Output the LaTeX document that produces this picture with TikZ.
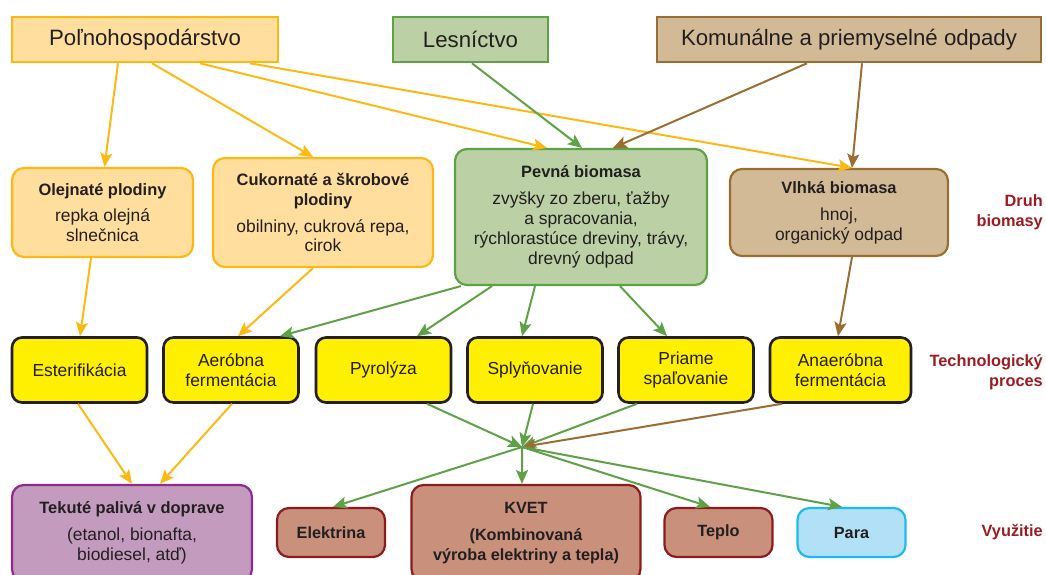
\documentclass[tikz,border=0pt]{standalone}
\usepackage{fontspec}
\setmainfont{Liberation Sans}
\usetikzlibrary{arrows.meta}
\definecolor{ink}{HTML}{231F20}
\definecolor{agrfill}{HTML}{FFDE9E}
\definecolor{agrline}{HTML}{FDB913}
\definecolor{forfill}{HTML}{BBD1A5}
\definecolor{forline}{HTML}{5FA147}
\definecolor{wastefill}{HTML}{D2BA97}
\definecolor{wasteline}{HTML}{9A6E33}
\definecolor{procfill}{HTML}{FFEF00}
\definecolor{fuelfill}{HTML}{C29BBE}
\definecolor{fuelline}{HTML}{8E2B8C}
\definecolor{usefill}{HTML}{C9907C}
\definecolor{useline}{HTML}{8C1B1E}
\definecolor{steamfill}{HTML}{B2E1F7}
\definecolor{steamline}{HTML}{1CBBEE}
\definecolor{lblred}{HTML}{9A1C22}
\newcommand{\ttl}[1]{{\fontsize{16.5}{20}\selectfont\bfseries #1}}

\begin{document}
\begin{tikzpicture}[x=1bp,y=-1bp,
	every node/.style={font=\fontsize{17.5}{20}\selectfont, text=ink, align=center, inner sep=0pt},
	head/.style={draw, line width=2.6bp, font=\fontsize{22.3}{26}\selectfont, minimum height=45bp},
	kind/.style={draw, line width=2.2bp, rounded corners=12bp},
	proc/.style={draw=ink, fill=procfill, line width=2.6bp, rounded corners=10bp, minimum width=135bp, minimum height=65bp},
	usebox/.style={draw=useline, fill=usefill, line width=2.2bp, rounded corners=12bp, font=\fontsize{16.3}{20}\selectfont\bfseries},
	side/.style={text=lblred, font=\fontsize{16.4}{20.5}\selectfont\bfseries, align=right, anchor=east},
	arr/.style={-{Stealth[length=14bp,width=12bp,inset=3bp]}, line width=2bp}]
	\useasboundingbox (0,0) rectangle (1046,575);

	\node[head, fill=agrfill, draw=agrline, minimum width=266bp] (agri) at (145,39.5) {Poľnohospodárstvo};
	\node[head, fill=forfill, draw=forline, minimum width=155bp] (forest) at (470.5,39.5) {Lesníctvo};
	\node[head, fill=wastefill, draw=wasteline, minimum width=384bp] (waste) at (849,39.5) {Komunálne a priemyselné odpady};

	\node[kind, fill=agrfill, draw=agrline, minimum width=181bp, minimum height=89bp] (oil) at (102.5,212.5) {\ttl{Olejnaté plodiny}\\[7pt] repka olejná\\ slnečnica};
	\node[kind, fill=agrfill, draw=agrline, minimum width=220bp, minimum height=109bp] (sugar) at (323,212.5) {\ttl{Cukornaté a škrobové}\\ \ttl{plodiny}\\[7pt] obilniny, cukrová repa,\\ cirok};
	\node[kind, fill=forfill, draw=forline, minimum width=252bp, minimum height=136bp] (solid) at (581,217) {\ttl{Pevná biomasa}\\[7pt] zvyšky zo zberu, ťažby\\ a spracovania,\\ rýchlorastúce dreviny, trávy,\\ drevný odpad};
	\node[kind, fill=wastefill, draw=wasteline, minimum width=218bp, minimum height=87bp] (wet) at (839,212.5) {\ttl{Vlhká biomasa}\\[7pt] hnoj,\\ organický odpad};

	\node[proc] (ester) at (79.5,370) {Esterifikácia};
	\node[proc] (aero) at (231,370) {Aeróbna\\ fermentácia};
	\node[proc] (pyro) at (383.5,370) {Pyrolýza};
	\node[proc] (gas) at (535,370) {Splyňovanie};
	\node[proc] (burn) at (686,370) {Priame\\ spaľovanie};
	\node[proc, minimum width=141bp] (anaero) at (840.5,370) {Anaeróbna\\ fermentácia};

	\node[kind, fill=fuelfill, draw=fuelline, minimum width=240bp, minimum height=96bp] (fuel) at (132,533) {\ttl{Tekuté palivá v doprave}\\[7pt] (etanol, bionafta,\\ biodiesel, atď)};
	\node[usebox, minimum width=108bp, minimum height=49bp] (elec) at (331,532.5) {Elektrina};
	\node[usebox, minimum width=229bp, minimum height=96bp] (kvet) at (526,533) {KVET\\[7pt] (Kombinovaná\\ výroba elektriny a tepla)};
	\node[usebox, minimum width=108bp, minimum height=49bp] (heat) at (718.5,532.5) {Teplo};
	\node[usebox, draw=steamline, fill=steamfill, minimum width=108bp, minimum height=49bp] (steam) at (851.5,532.5) {Para};

	\node[side] (lkind) at (1043,212) {Druh\\ biomasy};
	\node[side] (lproc) at (1043,372) {Technologický\\ proces};
	\node[side] (luse) at (1043,532) {Využitie};

	\coordinate (hub) at (522,447);

	\draw[arr, agrline] ([xshift=-27bp]agri.south) -- ([xshift=2bp]oil.north);
	\draw[arr, agrline] ([xshift=7bp]agri.south) -- ([xshift=-10bp]sugar.north);
	\draw[arr, agrline] ([xshift=55bp]agri.south) -- ([xshift=-34bp]solid.north);
	\draw[arr, agrline] ([xshift=105bp]agri.south) -- ([xshift=13bp]wet.north);
	\draw[arr, forline] ([xshift=1.5bp]forest.south) -- ([xshift=1bp]solid.north);
	\draw[arr, wasteline] ([xshift=-42bp]waste.south) -- ([xshift=32bp]solid.north);
	\draw[arr, wasteline] ([xshift=13bp]waste.south) -- ([xshift=13bp]wet.north);

	\draw[arr, agrline] ([xshift=-11.5bp]oil.south) -- ([xshift=0.5bp]ester.north);
	\draw[arr, agrline] ([xshift=-10bp]sugar.south) -- ([xshift=7bp]aero.north);
	\draw[arr, forline] ([xshift=7bp]solid.south west) -- ([xshift=49bp]aero.north);
	\draw[arr, forline] ([xshift=-89bp]solid.south) -- ([xshift=33.5bp]pyro.north);
	\draw[arr, forline] ([xshift=-46bp]solid.south) -- ([xshift=-13bp]gas.north);
	\draw[arr, forline] ([xshift=39bp]solid.south) -- ([xshift=-19bp]burn.north);
	\draw[arr, wasteline] ([xshift=13bp]wet.south) -- ([xshift=-2.5bp]anaero.north);

	\draw[arr, agrline] ([xshift=-1.5bp]ester.south) -- (fuel.north);
	\draw[arr, agrline] ([xshift=1bp]aero.south) -- ([xshift=28bp]fuel.north);
	\draw[arr, forline] ([xshift=43.5bp]pyro.south) -- (hub);
	\draw[arr, forline] ([xshift=-2bp]gas.south) -- (hub);
	\draw[arr, forline] ([xshift=-49bp]burn.south) -- (hub);
	\draw[arr, wasteline] ([xshift=-58.5bp]anaero.south) -- (hub);

	\draw[arr, forline] (hub) -- ([xshift=2bp]elec.north);
	\draw[arr, forline] (hub) -- ([xshift=-4bp]kvet.north);
	\draw[arr, forline] (hub) -- ([xshift=-8.5bp]heat.north);
	\draw[arr, forline] (hub) -- ([xshift=-9.5bp]steam.north);
\end{tikzpicture}
\end{document}
